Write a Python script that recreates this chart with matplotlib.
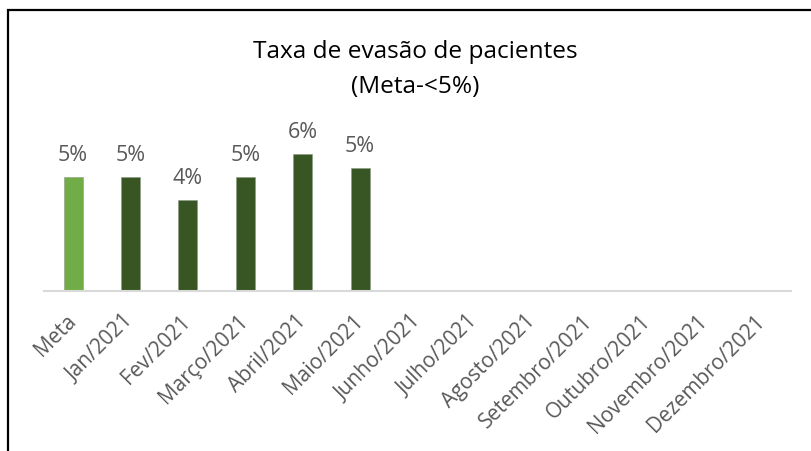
import numpy as np
import matplotlib.pyplot as plt
from matplotlib.patches import Rectangle

# DATA

categorias = ['Meta', 'Jan/2021', 'Fev/2021', 'Março/2021', 'Abril/2021', 'Maio/2021',
              'Junho/2021', 'Julho/2021', 'Agosto/2021', 'Setembro/2021',
              'Outubro/2021', 'Novembro/2021', 'Dezembro/2021']
taxa = [0.05, 0.05, 0.04, 0.05, 0.06, 0.054]
rotulos = ['5%', '5%', '4%', '5%', '6%', '5%']

cores = ['#70AD47'] + ['#375623'] * (len(taxa) - 1)

plt.rcParams['font.family'] = ['Open Sans', 'DejaVu Sans']

fig = plt.figure(figsize=(8.12, 4.52), dpi=100)

# frame (only top and left edges visible in the crop)
fig.patches.append(Rectangle((8/812, -0.1), 1.1, (452-11)/452 + 0.1,
                             transform=fig.transFigure, fill=False,
                             edgecolor='black', linewidth=1.6))

ax = fig.add_axes([0.0546, 0.354, 0.919, 0.354])

x = np.arange(len(taxa))
ax.bar(x, taxa, width=0.33, color=cores, edgecolor='#8a9a80', linewidth=0.4)

for xi, v, r in zip(x, taxa, rotulos):
    ax.annotate(r, (xi, v), xytext=(0, 12), textcoords='offset points',
                ha='center', va='baseline', fontsize=15.5, color='#595959')

ax.set_xlim(-0.5, len(categorias) - 0.5)
ax.set_ylim(0, 0.07)
ax.set_xticks(np.arange(len(categorias)))
ax.set_xticklabels(categorias, rotation=45, ha='right', va='center',
                   rotation_mode='anchor', fontsize=15, color='#595959')
ax.tick_params(axis='x', length=0, pad=19)
ax.set_yticks([])

for s in ['top', 'right', 'left']:
    ax.spines[s].set_visible(False)
ax.spines['bottom'].set_color('#D9D9D9')
ax.spines['bottom'].set_linewidth(1.5)

# title in two lines
fig.text(0.511, (452 - 58) / 452, 'Taxa de evasão de pacientes', ha='center', va='baseline',
         fontsize=17.6, color='black')
fig.text(0.511, (452 - 93) / 452, '(Meta-<5%)', ha='center', va='baseline',
         fontsize=17.6, color='black')

plt.savefig('out.png', dpi=100)
